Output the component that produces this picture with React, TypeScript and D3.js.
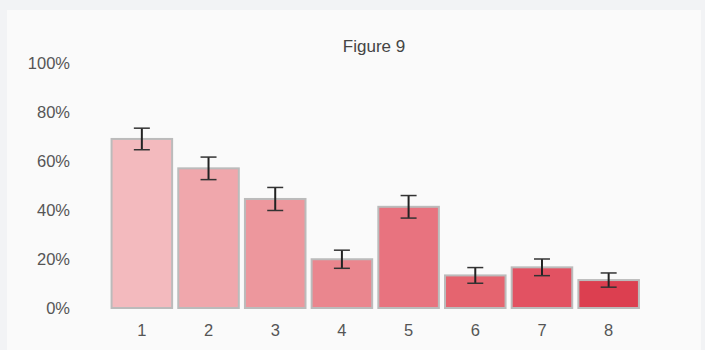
import React from "react";
import * as d3 from "d3";

const categories = ["1", "2", "3", "4", "5", "6", "7", "8"];
const values = [0.69, 0.57, 0.445, 0.199, 0.413, 0.133, 0.166, 0.114];
const errors = [0.044, 0.046, 0.047, 0.037, 0.046, 0.032, 0.034, 0.029];
const colors = ["#f3babe", "#f0a7ac", "#ed979d", "#ea868e", "#e8737f", "#e5646f", "#e25262", "#dc3f50"];
const yTicks = [0, 0.2, 0.4, 0.6, 0.8, 1.0];
const title = "Figure 9";

const W = 705;
const H = 350;

export default function App() {
  const x = d3.scaleBand<string>().domain(categories).range([108.5, 642]).paddingInner(0.092).paddingOuter(0.046);
  const y = d3.scaleLinear().domain([0, 1]).range([308, 63]);
  const fmt = d3.format(".0%");
  const font = "Helvetica, Arial, 'Liberation Sans', sans-serif";
  return (
    <svg width={W} height={H} style={{ position: "absolute", left: 0, top: 0, display: "block" }} fontFamily={font}>
      <rect x={0} y={0} width={W} height={H} fill="#f2f3f5" />
      <rect x={7} y={10} width={694} height={H - 10} fill="#fafafa" />
      <text x={374} y={52} textAnchor="middle" fontSize={17} fill="#444">{title}</text>
      {yTicks.map((t) => (
        <text key={t} x={70} y={y(t)} dy="0.36em" textAnchor="end" fontSize={16.5} fill="#555">{fmt(t)}</text>
      ))}
      {categories.map((c, i) => {
        const bx = x(c)!;
        const bw = x.bandwidth();
        const cx = bx + bw / 2;
        const v = values[i];
        const e = errors[i];
        return (
          <g key={c}>
            <rect x={bx} y={y(v)} width={bw} height={y(0) - y(v)} fill={colors[i]} stroke="#bbbbbb" strokeWidth={2} />
            <line x1={cx} x2={cx} y1={y(v + e)} y2={y(v - e)} stroke="#222" strokeWidth={2} />
            <line x1={cx - 8} x2={cx + 8} y1={y(v + e)} y2={y(v + e)} stroke="#333" strokeWidth={1.5} />
            <line x1={cx - 8} x2={cx + 8} y1={y(v - e)} y2={y(v - e)} stroke="#333" strokeWidth={1.5} />
            <text x={cx} y={330} dy="0.36em" textAnchor="middle" fontSize={16.5} fill="#555">{c}</text>
          </g>
        );
      })}
    </svg>
  );
}
